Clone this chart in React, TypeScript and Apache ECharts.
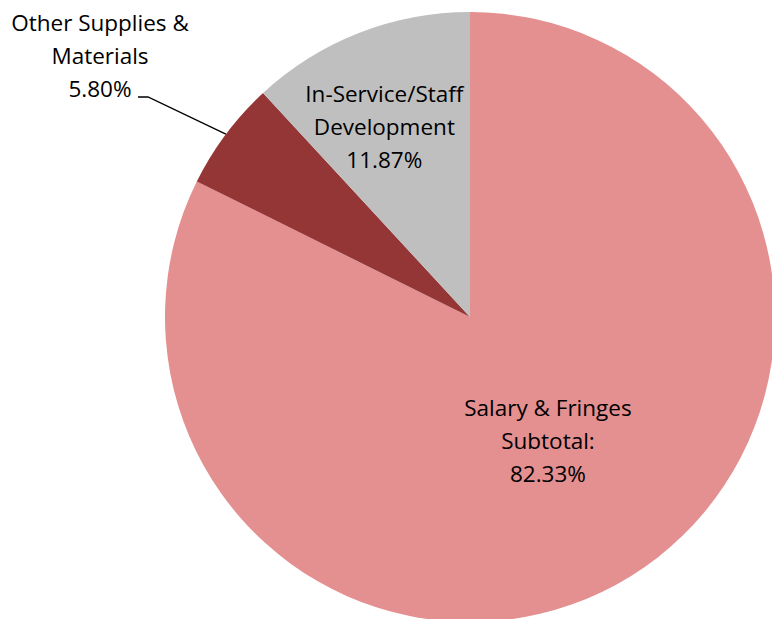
import React, { useEffect, useRef } from "react";
import * as echarts from "echarts";

const categories = [
  "Salary & Fringes\nSubtotal:",
  "Other Supplies &\nMaterials",
  "In-Service/Staff\nDevelopment",
];
const values = [82.33, 5.8, 11.87];
const colors = ["#E48F90", "#943536", "#BFBFBF"];

export default function App() {
  const ref = useRef<HTMLDivElement>(null);
  useEffect(() => {
    if (!ref.current) return;
    const chart = echarts.init(ref.current, null, { renderer: "svg" });
    const font = {
      fontFamily: "'Open Sans', 'Noto Sans', sans-serif",
      fontSize: 22.5,
      lineHeight: 33,
      color: "#000",
    };
    chart.setOption({
      animation: false,
      backgroundColor: "#fff",
      series: [
        {
          type: "pie",
          center: [470, 317],
          radius: [0, 305],
          startAngle: 90,
          clockwise: true,
          avoidLabelOverlap: false,
          itemStyle: { borderWidth: 0 },
          label: {
            ...font,
            formatter: (p: any) => `${p.name}\n${p.value.toFixed(2)}%`,
          },
          labelLine: { lineStyle: { color: "#000", width: 1.3 } },
          labelLayout: (p: any) => {
            if (p.dataIndex === 0) return { dx: -4, dy: -9 };
            if (p.dataIndex === 2) return { dx: -29, dy: -46 };
            if (p.dataIndex === 1) {
              const p0 = p.labelLinePoints ? p.labelLinePoints[0] : [227, 135];
              return {
                x: 100,
                y: 55,
                align: "center",
                verticalAlign: "middle",
                labelLinePoints: [p0, [148, 97], [138, 97]],
              };
            }
            return {};
          },
          data: categories.map((c, i) => ({
            name: c,
            value: values[i],
            itemStyle: { color: colors[i] },
            label: { position: i === 1 ? "outside" : "inside" },
            labelLine: { show: i === 1 },
          })),
        },
      ],
    });
    return () => chart.dispose();
  }, []);
  return (
    <div
      ref={ref}
      style={{ position: "fixed", left: 0, top: 0, width: 772, height: 619 }}
    />
  );
}
